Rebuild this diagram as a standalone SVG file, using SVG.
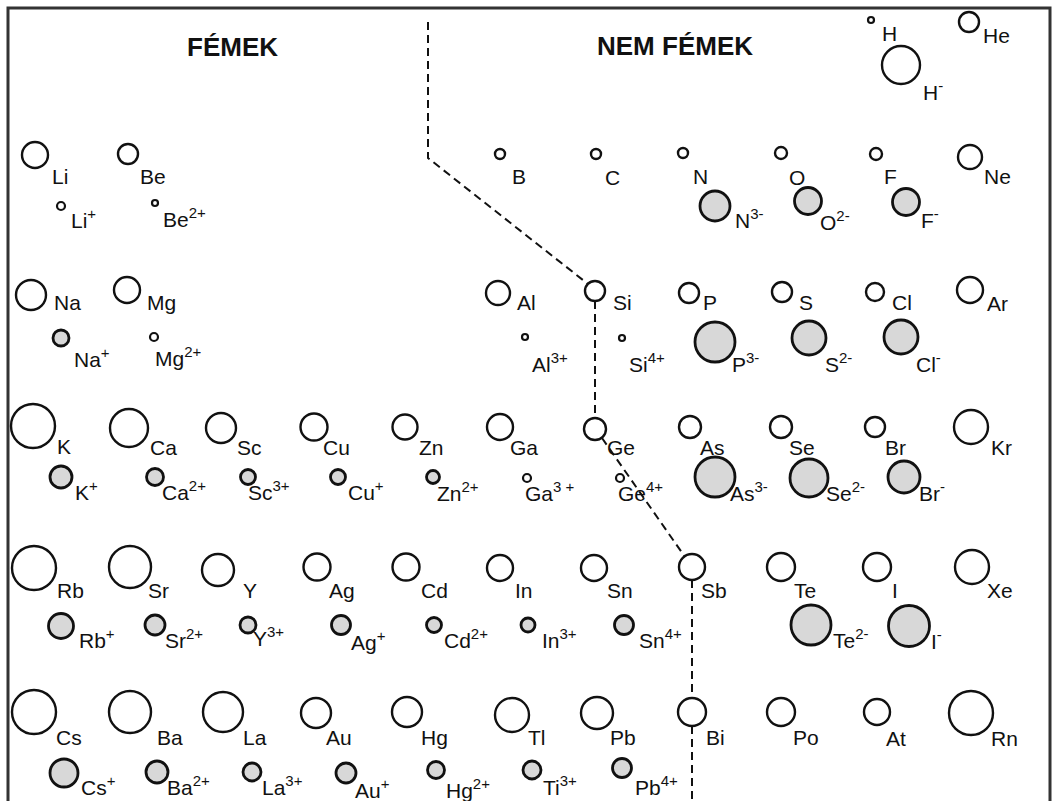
<svg xmlns="http://www.w3.org/2000/svg" width="1054" height="801" viewBox="0 0 1054 801">
<style>
.a{fill:#fff;stroke:#111;stroke-width:2.4}
.i{fill:#d8d8d8;stroke:#111;stroke-width:2.8}
.s{fill:#fff;stroke:#111;stroke-width:2.2}
text{font-family:"Liberation Sans",Arial,sans-serif;font-size:21px;fill:#111}
.h{font-weight:bold;font-size:26px}
.sup{font-size:15px}
.dash{fill:none;stroke:#111;stroke-width:2;stroke-dasharray:8 5}
.frame{fill:none;stroke:#333;stroke-width:3}
</style>
<rect width="1054" height="801" fill="#fff"/>
<path class="frame" d="M8 801V8H1050V801"/>
<g id="headers">
<text class="h" x="187" y="56">FÉMEK</text>
<text class="h" x="597" y="55">NEM FÉMEK</text>
</g>
<g id="connectors">
<path class="dash" d="M428 22V158L588 284"/>
<path class="dash" d="M595 301V418"/>
<path class="dash" d="M602 438L685 557"/>
<path class="dash" d="M692 580V698"/>
<path class="dash" d="M692 726V801"/>
</g>
<g id="H"><circle class="s" cx="871" cy="20" r="3"/><text x="882" y="41">H</text></g>
<g id="Hm"><circle class="a" cx="901" cy="65" r="19"/><text x="923" y="100">H<tspan class="sup" dy="-9">-</tspan></text></g>
<g id="He"><circle class="a" cx="969" cy="22" r="10"/><text x="983" y="43">He</text></g>

<g id="Li"><circle class="a" cx="35" cy="155" r="13"/><text x="52" y="184">Li</text></g>
<g id="Lip"><circle class="s" cx="61" cy="206" r="4"/><text x="71" y="228">Li<tspan class="sup" dy="-9">+</tspan></text></g>
<g id="Be"><circle class="a" cx="128" cy="154" r="10"/><text x="140" y="184">Be</text></g>
<g id="Bep"><circle class="s" cx="155" cy="203" r="3"/><text x="163" y="227">Be<tspan class="sup" dy="-9">2+</tspan></text></g>
<g id="B"><circle class="a" cx="500" cy="154" r="5"/><text x="512" y="184">B</text></g>
<g id="C"><circle class="a" cx="596" cy="154" r="5"/><text x="605" y="185">C</text></g>
<g id="N"><circle class="a" cx="683" cy="153" r="5"/><text x="693" y="184">N</text></g>
<g id="Nm"><circle class="i" cx="715" cy="206" r="15"/><text x="735" y="228">N<tspan class="sup" dy="-9">3-</tspan></text></g>
<g id="O"><circle class="a" cx="781" cy="153" r="6"/><text x="789" y="185">O</text></g>
<g id="Om"><circle class="i" cx="808" cy="201" r="13.5"/><text x="820" y="230">O<tspan class="sup" dy="-9">2-</tspan></text></g>
<g id="F"><circle class="a" cx="876" cy="154" r="6"/><text x="884" y="184">F</text></g>
<g id="Fm"><circle class="i" cx="906" cy="202" r="13.5"/><text x="921" y="228">F<tspan class="sup" dy="-9">-</tspan></text></g>
<g id="Ne"><circle class="a" cx="970" cy="157" r="12"/><text x="984" y="184">Ne</text></g>

<g id="Na"><circle class="a" cx="31" cy="295" r="15"/><text x="54" y="310">Na</text></g>
<g id="Nap"><circle class="i" cx="61" cy="338" r="8"/><text x="74" y="367">Na<tspan class="sup" dy="-9">+</tspan></text></g>
<g id="Mg"><circle class="a" cx="127" cy="290" r="13"/><text x="147" y="310">Mg</text></g>
<g id="Mgp"><circle class="s" cx="154" cy="337" r="4"/><text x="155" y="366">Mg<tspan class="sup" dy="-9">2+</tspan></text></g>
<g id="Al"><circle class="a" cx="498" cy="293" r="12"/><text x="517" y="310">Al</text></g>
<g id="Alp"><circle class="s" cx="525" cy="337" r="3"/><text x="532" y="372">Al<tspan class="sup" dy="-9">3+</tspan></text></g>
<g id="Si"><circle class="a" cx="595" cy="291" r="10"/><text x="613" y="310">Si</text></g>
<g id="Sip"><circle class="s" cx="622" cy="338" r="3"/><text x="629" y="372">Si<tspan class="sup" dy="-9">4+</tspan></text></g>
<g id="P"><circle class="a" cx="689" cy="293" r="10"/><text x="703" y="310">P</text></g>
<g id="Pm"><circle class="i" cx="715" cy="342" r="20"/><text x="732" y="372">P<tspan class="sup" dy="-9">3-</tspan></text></g>
<g id="S"><circle class="a" cx="782" cy="292" r="10"/><text x="799" y="310">S</text></g>
<g id="Sm"><circle class="i" cx="809" cy="338" r="17"/><text x="825" y="372">S<tspan class="sup" dy="-9">2-</tspan></text></g>
<g id="Cl"><circle class="a" cx="875" cy="292" r="9"/><text x="892" y="310">Cl</text></g>
<g id="Clm"><circle class="i" cx="901" cy="337" r="17"/><text x="916" y="372">Cl<tspan class="sup" dy="-9">-</tspan></text></g>
<g id="Ar"><circle class="a" cx="970" cy="290" r="13"/><text x="987" y="311">Ar</text></g>

<g id="K"><circle class="a" cx="33" cy="426" r="22"/><text x="57" y="454">K</text></g>
<g id="Kp"><circle class="i" cx="61" cy="477" r="11"/><text x="75" y="500">K<tspan class="sup" dy="-9">+</tspan></text></g>
<g id="Ca"><circle class="a" cx="129" cy="428" r="19"/><text x="150" y="455">Ca</text></g>
<g id="Cap"><circle class="i" cx="155" cy="477" r="8.5"/><text x="162" y="500">Ca<tspan class="sup" dy="-9">2+</tspan></text></g>
<g id="Sc"><circle class="a" cx="221" cy="428" r="15"/><text x="237" y="455">Sc</text></g>
<g id="Scp"><circle class="i" cx="248" cy="477" r="7.5"/><text x="248" y="500">Sc<tspan class="sup" dy="-9">3+</tspan></text></g>
<g id="Cu"><circle class="a" cx="314" cy="427" r="13.5"/><text x="323" y="455">Cu</text></g>
<g id="Cup"><circle class="i" cx="338" cy="477" r="7.5"/><text x="348" y="500">Cu<tspan class="sup" dy="-9">+</tspan></text></g>
<g id="Zn"><circle class="a" cx="405" cy="427" r="12.5"/><text x="419" y="455">Zn</text></g>
<g id="Znp"><circle class="i" cx="433" cy="477" r="6.5"/><text x="437" y="501">Zn<tspan class="sup" dy="-9">2+</tspan></text></g>
<g id="Ga"><circle class="a" cx="500" cy="427" r="13"/><text x="510" y="455">Ga</text></g>
<g id="Gap"><circle class="s" cx="527" cy="478" r="4"/><text x="525" y="501">Ga<tspan class="sup" dy="-9">3 +</tspan></text></g>
<g id="Ge"><circle class="a" cx="595" cy="429" r="11"/><text x="607" y="455">Ge</text></g>
<g id="Gep"><circle class="s" cx="620" cy="478" r="4"/><text x="618" y="501">Ge<tspan class="sup" dy="-9">4+</tspan></text></g>
<g id="As"><circle class="a" cx="690" cy="427" r="11"/><text x="700" y="455">As</text></g>
<g id="Asm"><circle class="i" cx="715" cy="477" r="20"/><text x="730" y="501">As<tspan class="sup" dy="-9">3-</tspan></text></g>
<g id="Se"><circle class="a" cx="781" cy="427" r="11"/><text x="789" y="455">Se</text></g>
<g id="Sem"><circle class="i" cx="809" cy="478" r="19"/><text x="826" y="501">Se<tspan class="sup" dy="-9">2-</tspan></text></g>
<g id="Br"><circle class="a" cx="875" cy="427" r="10"/><text x="885" y="455">Br</text></g>
<g id="Brm"><circle class="i" cx="904" cy="477" r="16"/><text x="919" y="501">Br<tspan class="sup" dy="-9">-</tspan></text></g>
<g id="Kr"><circle class="a" cx="971" cy="427" r="17"/><text x="991" y="455">Kr</text></g>

<g id="Rb"><circle class="a" cx="34" cy="568" r="22"/><text x="57" y="598">Rb</text></g>
<g id="Rbp"><circle class="i" cx="61" cy="626" r="12.5"/><text x="79" y="648">Rb<tspan class="sup" dy="-9">+</tspan></text></g>
<g id="Sr"><circle class="a" cx="130" cy="567" r="21"/><text x="148" y="598">Sr</text></g>
<g id="Srp"><circle class="i" cx="155" cy="625" r="10"/><text x="165" y="648">Sr<tspan class="sup" dy="-9">2+</tspan></text></g>
<g id="Y"><circle class="a" cx="218" cy="570" r="16"/><text x="243" y="598">Y</text></g>
<g id="Yp"><circle class="i" cx="248" cy="625" r="8"/><text x="253" y="646">Y<tspan class="sup" dy="-9">3+</tspan></text></g>
<g id="Ag"><circle class="a" cx="317" cy="567" r="13.5"/><text x="329" y="598">Ag</text></g>
<g id="Agp"><circle class="i" cx="341" cy="625" r="9.5"/><text x="351" y="650">Ag<tspan class="sup" dy="-9">+</tspan></text></g>
<g id="Cd"><circle class="a" cx="406" cy="567" r="13.5"/><text x="421" y="598">Cd</text></g>
<g id="Cdp"><circle class="i" cx="434" cy="625" r="7.5"/><text x="444" y="648">Cd<tspan class="sup" dy="-9">2+</tspan></text></g>
<g id="In"><circle class="a" cx="500" cy="568" r="13"/><text x="515" y="598">In</text></g>
<g id="Inp"><circle class="i" cx="528" cy="625" r="7"/><text x="542" y="648">In<tspan class="sup" dy="-9">3+</tspan></text></g>
<g id="Sn"><circle class="a" cx="594" cy="568" r="13"/><text x="607" y="598">Sn</text></g>
<g id="Snp"><circle class="i" cx="624" cy="625" r="9.5"/><text x="639" y="648">Sn<tspan class="sup" dy="-9">4+</tspan></text></g>
<g id="Sb"><circle class="a" cx="692" cy="567" r="13"/><text x="701" y="598">Sb</text></g>
<g id="Te"><circle class="a" cx="781" cy="567" r="14"/><text x="794" y="598">Te</text></g>
<g id="Tem"><circle class="i" cx="811" cy="625" r="20"/><text x="833" y="648">Te<tspan class="sup" dy="-9">2-</tspan></text></g>
<g id="I"><circle class="a" cx="877" cy="567" r="14"/><text x="892" y="598">I</text></g>
<g id="Im"><circle class="i" cx="909" cy="626" r="20.5"/><text x="931" y="649">I<tspan class="sup" dy="-9">-</tspan></text></g>
<g id="Xe"><circle class="a" cx="972" cy="567" r="17"/><text x="987" y="598">Xe</text></g>

<g id="Cs"><circle class="a" cx="34" cy="712" r="22"/><text x="56" y="745">Cs</text></g>
<g id="Csp"><circle class="i" cx="64" cy="773" r="14"/><text x="81" y="795">Cs<tspan class="sup" dy="-9">+</tspan></text></g>
<g id="Ba"><circle class="a" cx="130" cy="712" r="21"/><text x="157" y="745">Ba</text></g>
<g id="Bap"><circle class="i" cx="157" cy="772" r="11"/><text x="167" y="795">Ba<tspan class="sup" dy="-9">2+</tspan></text></g>
<g id="La"><circle class="a" cx="223" cy="712" r="20"/><text x="243" y="745">La</text></g>
<g id="Lap"><circle class="i" cx="252" cy="772" r="9"/><text x="262" y="795">La<tspan class="sup" dy="-9">3+</tspan></text></g>
<g id="Au"><circle class="a" cx="316" cy="713" r="15"/><text x="326" y="745">Au</text></g>
<g id="Aup"><circle class="i" cx="346" cy="773" r="10"/><text x="355" y="798">Au<tspan class="sup" dy="-9">+</tspan></text></g>
<g id="Hg"><circle class="a" cx="407" cy="712" r="15"/><text x="421" y="745">Hg</text></g>
<g id="Hgp"><circle class="i" cx="436" cy="770" r="8.5"/><text x="446" y="798">Hg<tspan class="sup" dy="-9">2+</tspan></text></g>
<g id="Tl"><circle class="a" cx="512" cy="715" r="17"/><text x="528" y="745">Tl</text></g>
<g id="Tlp"><circle class="i" cx="532" cy="770" r="9"/><text x="543" y="795">Ti<tspan class="sup" dy="-9">3+</tspan></text></g>
<g id="Pb"><circle class="a" cx="597" cy="713" r="16"/><text x="610" y="745">Pb</text></g>
<g id="Pbp"><circle class="i" cx="622" cy="768" r="9.5"/><text x="635" y="795">Pb<tspan class="sup" dy="-9">4+</tspan></text></g>
<g id="Bi"><circle class="a" cx="692" cy="712" r="14"/><text x="706" y="745">Bi</text></g>
<g id="Po"><circle class="a" cx="781" cy="712" r="14"/><text x="793" y="745">Po</text></g>
<g id="At"><circle class="a" cx="877" cy="712" r="13"/><text x="886" y="746">At</text></g>
<g id="Rn"><circle class="a" cx="971" cy="713" r="22"/><text x="991" y="746">Rn</text></g>
</svg>
